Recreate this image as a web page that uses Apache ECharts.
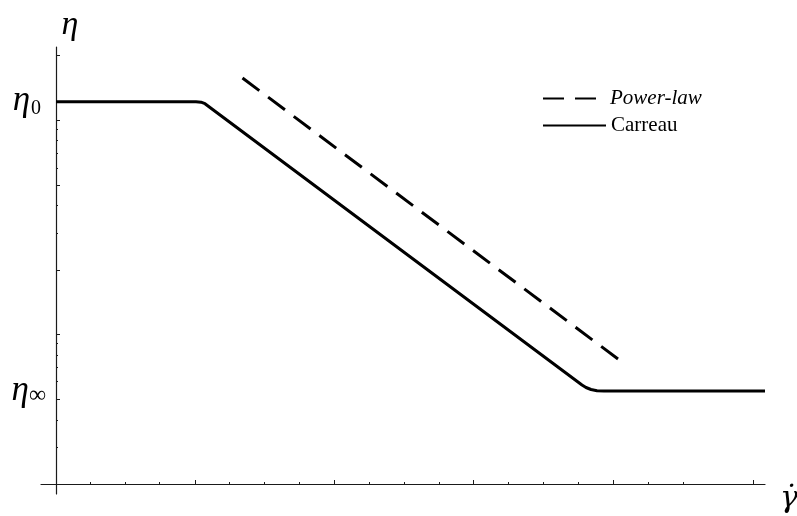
<!DOCTYPE html>
<html>
<head>
<meta charset="utf-8">
<script src="https://cdn.jsdelivr.net/npm/echarts@6/dist/echarts.min.js"></script>
<style>html,body{margin:0;padding:0;background:#fff}#c{width:797px;height:516px}</style>
</head>
<body>
<div id="c"></div>
<script>
// Units (x grows right, y grows up; both linear in the log-log plot)
const seriesNames = ['Power-law', 'Carreau'];
const powerLaw = [[186.5, 406], [564, 123.5]];
const carreau = [[0, 382.3], [140, 382.3], [145, 381.8], [149, 380.3], [154, 376.5], [526, 99], [530, 96.5], [535, 94.5], [541, 93.3], [548, 93], [709, 93]];
const xMajorTicks = [139, 278, 417, 557, 697];
const xMinorTicks = [34, 69, 103, 173, 208, 243, 313, 348, 383, 452, 487, 522, 592, 627];
const yMajorTicks = [429, 363.7, 298.3, 213.3, 150, 85];
const yMinorTicks = [354.3, 344, 330.3, 315.7, 278.3, 250.7, 140.7, 128.7, 116.7, 102.3, 63.3, 37];
const yLabelValues = [382.3, 93];
const yLabelSubs = ['0', '∞'];
const yName = 'η';
const xName = 'γ̇';

const serif = "'Liberation Serif','DejaVu Serif',serif";
const axisColor = '#1a1a1a';
const X_MIN = -15, X_MAX = 709, Y_MIN = -10, Y_MAX = 437;

const chart = echarts.init(document.getElementById('c'), null, {renderer: 'canvas'});
chart.setOption({
  animation: false,
  backgroundColor: '#fff',
  grid: [
    {left: 41, right: 32, top: 47, bottom: 22, containLabel: false, outerBoundsMode: 'none'},
    {left: 41, right: 32, top: 47, bottom: 22, containLabel: false, outerBoundsMode: 'none'}
  ],
  legend: {
    data: seriesNames,
    orient: 'vertical',
    left: 537, top: 83,
    itemWidth: 63, itemHeight: 14, itemGap: 6,
    itemStyle: {opacity: 0},
    formatter: function (n) { return n === 'Power-law' ? '{i|' + n + '}' : '{n|' + n + '}'; },
    textStyle: {
      rich: {
        i: {fontFamily: serif, fontStyle: 'italic', fontSize: 21, color: '#000', lineHeight: 14, padding: [0, 0, 0, -1]},
        n: {fontFamily: serif, fontSize: 21, color: '#000', lineHeight: 14, padding: [0, 0, 0, 0]}
      }
    }
  },
  xAxis: [
    {
      type: 'value', gridIndex: 0, min: X_MIN, max: X_MAX,
      name: xName, nameLocation: 'end', nameGap: 15,
      nameTextStyle: {fontFamily: "'DejaVu Serif','Liberation Serif',serif", fontStyle: 'italic', fontSize: 30, color: '#000', verticalAlign: 'top', align: 'left'},
      axisLine: {show: true, onZero: true, lineStyle: {color: axisColor, width: 1.2}},
      axisTick: {show: true, inside: true, length: 4, customValues: xMajorTicks, lineStyle: {color: axisColor, width: 1}},
      axisLabel: {show: false},
      splitLine: {show: false}
    },
    {
      type: 'value', gridIndex: 1, min: X_MIN, max: X_MAX,
      axisLine: {show: false, onZero: true},
      axisTick: {show: true, inside: true, length: 2, customValues: xMinorTicks, lineStyle: {color: axisColor, width: 1}},
      axisLabel: {show: false},
      splitLine: {show: false}
    }
  ],
  yAxis: [
    {
      type: 'value', gridIndex: 0, min: Y_MIN, max: Y_MAX,
      name: yName, nameLocation: 'end', nameGap: 5,
      nameTextStyle: {fontFamily: serif, fontStyle: 'italic', fontSize: 34, color: '#000', padding: [0, 0, 0, 28]},
      axisLine: {show: true, onZero: true, lineStyle: {color: axisColor, width: 1.2}},
      axisTick: {show: true, inside: true, length: 4, customValues: yMajorTicks, lineStyle: {color: axisColor, width: 1}},
      axisLabel: {
        show: true, margin: -5, customValues: yLabelValues,
        formatter: function (v) {
          const i = yLabelValues.indexOf(v);
          return i === 0 ? '{e|' + yName + '}{s0|' + yLabelSubs[0] + '}' : '{e|' + yName + '}{s1|' + yLabelSubs[1] + '}';
        },
        rich: {
          e: {fontFamily: serif, fontStyle: 'italic', fontSize: 35, color: '#000', lineHeight: 34, verticalAlign: 'bottom'},
          s0: {fontFamily: serif, fontSize: 20, color: '#000', lineHeight: 21, verticalAlign: 'bottom', padding: [0, 5, 0, 1]},
          s1: {fontFamily: serif, fontSize: 24, color: '#000', lineHeight: 23, verticalAlign: 'bottom', padding: [0, 0, 0, 0]}
        }
      },
      splitLine: {show: false}
    },
    {
      type: 'value', gridIndex: 1, min: Y_MIN, max: Y_MAX,
      axisLine: {show: false, onZero: true},
      axisTick: {show: true, inside: true, length: 2, customValues: yMinorTicks, lineStyle: {color: axisColor, width: 1}},
      axisLabel: {show: false},
      splitLine: {show: false}
    }
  ],
  series: [
    {
      name: seriesNames[0], type: 'line', xAxisIndex: 0, yAxisIndex: 0,
      data: powerLaw, symbol: 'none', silent: true,
      lineStyle: {color: '#000', width: 3, type: [21, 11], cap: 'butt'},
      itemStyle: {color: '#000'}
    },
    {
      name: seriesNames[1], type: 'line', xAxisIndex: 0, yAxisIndex: 0,
      data: carreau, symbol: 'none', silent: true,
      lineStyle: {color: '#000', width: 3, join: 'round'},
      itemStyle: {color: '#000'}
    }
  ]
});
</script>
</body>
</html>
